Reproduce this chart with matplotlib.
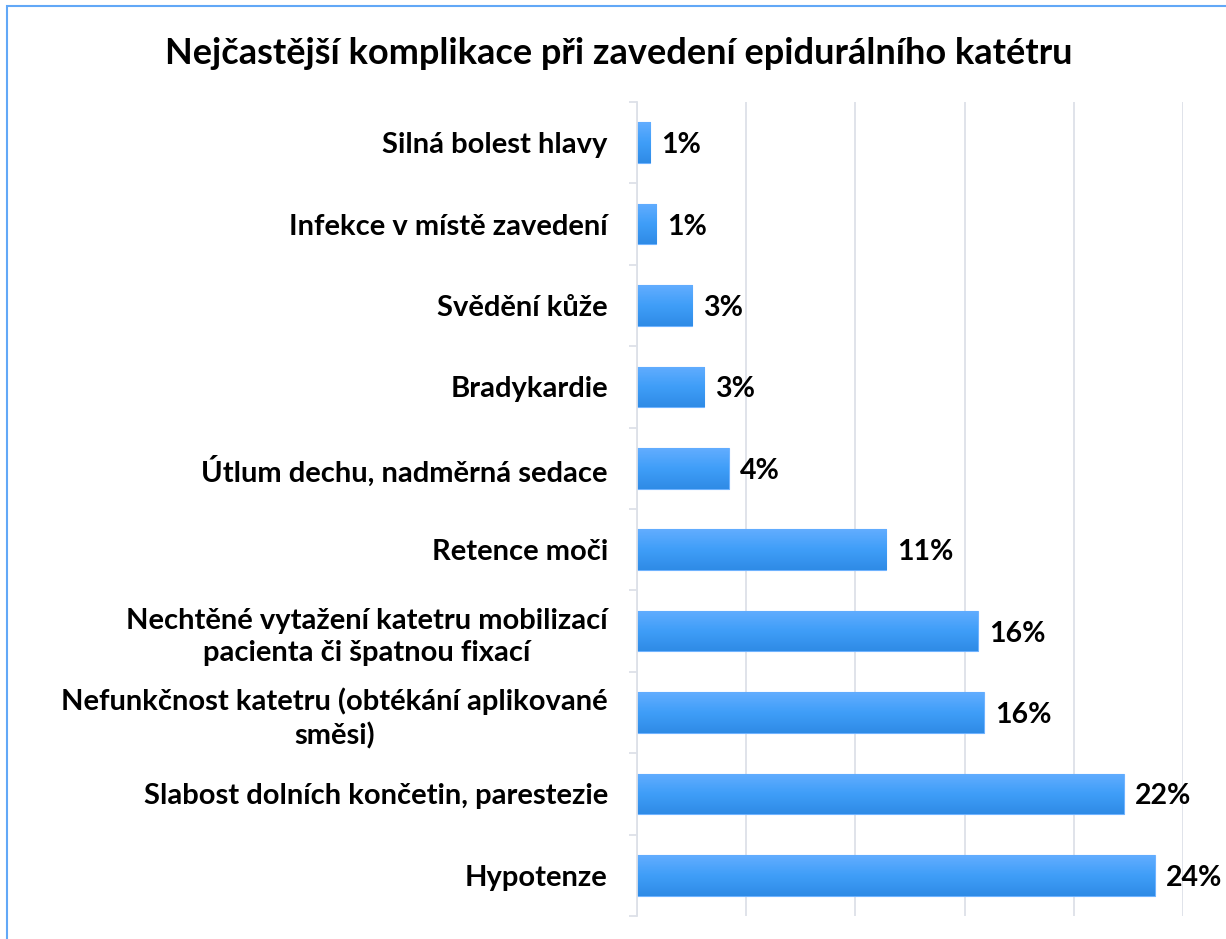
import numpy as np
import matplotlib.pyplot as plt
from matplotlib.patches import Rectangle
from matplotlib.colors import LinearSegmentedColormap

# data, top to bottom as in the chart
categories = [
    "Silná bolest hlavy",
    "Infekce v místě zavedení",
    "Svědění kůže",
    "Bradykardie",
    "Útlum dechu, nadměrná sedace",
    "Retence moči",
    "Nechtěné vytažení katetru mobilizací\npacienta či špatnou fixací",
    "Nefunkčnost katetru (obtékání aplikované\nsměsi)",
    "Slabost dolních končetin, parestezie",
    "Hypotenze",
]
values = [0.6, 0.87, 2.53, 3.08, 4.19, 11.42, 15.6, 15.88, 22.28, 23.71]
value_labels = ["1%", "1%", "3%", "3%", "4%", "11%", "16%", "16%", "22%", "24%"]
title = "Nejčastější komplikace při zavedení epidurálního katétru"

plt.rcParams['font.family'] = ['Lato', 'DejaVu Sans']

fig = plt.figure(figsize=(12.26, 9.39), dpi=100)
ax = fig.add_axes([637 / 1226, 1 - 916 / 939, (1183 - 637) / 1226, (916 - 102) / 939])

y = np.arange(len(categories))
bars = ax.barh(y, values, height=0.5, color='#3d9bf5', edgecolor='#6fb3ff', linewidth=0.8, zorder=2)

# vertical gradient inside every bar
grad = LinearSegmentedColormap.from_list('g', ['#2f8be6', '#3f9ef8', '#62adff'])
for b in bars:
    x0, y0, w, h = b.get_x(), b.get_y(), b.get_width(), b.get_height()
    im = ax.imshow(np.linspace(0, 1, 64).reshape(-1, 1), cmap=grad, aspect='auto',
                   extent=[x0, x0 + w, y0 + h, y0], origin='lower', zorder=2.5)
    im.set_clip_path(b)

for yi, v, lab in zip(y, values, value_labels):
    ax.text(v + 0.5, yi + 0.03, lab, va='center', ha='left', fontsize=20.5, fontweight='bold', color='black')

ax.set_xlim(0, 25)
ax.set_ylim(len(categories) - 0.5, -0.5)
ax.set_xticks(np.arange(0, 26, 5))
ax.tick_params(axis='x', length=0, labelbottom=False)
ax.xaxis.grid(True, color='#dde1e8', linewidth=1.3, zorder=0)
ax.set_axisbelow(True)

ax.set_yticks(y)
ax.set_yticklabels(categories, fontsize=21, fontweight='bold', multialignment='center', linespacing=1.3)
ax.set_yticks(np.arange(-0.5, len(categories)), minor=True)
ax.tick_params(axis='y', which='major', length=0, pad=21)
ax.tick_params(axis='y', which='minor', length=6, color='#dde1e8', width=1.3)

for s in ['top', 'right', 'bottom']:
    ax.spines[s].set_visible(False)
ax.spines['left'].set_color('#dde1e8')
ax.spines['left'].set_linewidth(1.3)

fig.text(619 / 1226, 1 - 53 / 939, title, ha='center', va='center', fontsize=26, fontweight='bold')

# chart frame (only top and left edges visible)
fig.patches.append(Rectangle((7 / 1226, -0.1), 1.2, 1 - 6 / 939 + 0.1, transform=fig.transFigure,
                             fill=False, edgecolor='#62a8f7', linewidth=1.5))

fig.savefig('out.png', dpi=100)
